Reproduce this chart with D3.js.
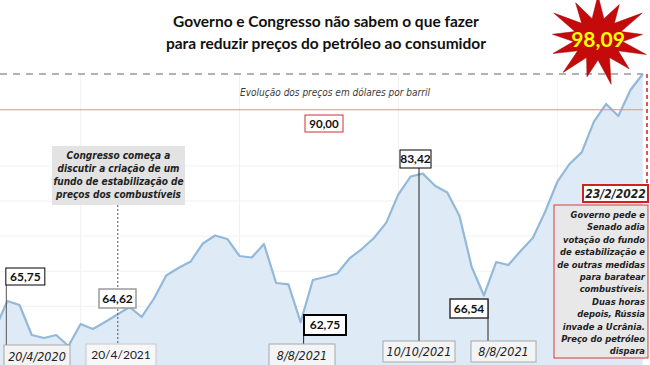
<!DOCTYPE html>
<html><head><meta charset="utf-8">
<script src="https://cdn.jsdelivr.net/npm/d3@7"></script>
<style>
html,body{margin:0;padding:0;background:#fff;}
svg{display:block;font-family:Lato,"Open Sans",sans-serif;}
.it{font-family:"Liberation Sans Narrow","DejaVu Sans Condensed","Liberation Sans",sans-serif;font-style:italic;}
</style></head>
<body>
<script>
// ---- data (weekly index, US$ per barrel) ----
const weekIndex = d3.range(-1, 53);
const prices = [61.77, 65.75, 65.19, 60.91, 60.48, 60.91, 59.34, 62.48, 61.77, 62.76,
  63.83, 64.90, 63.48, 66.11, 69.39, 70.46, 71.38, 73.95, 75.09, 74.59,
  72.17, 71.95, 73.87, 68.32, 68.13, 62.75, 68.75, 69.17, 69.67, 71.81,
  73.16, 74.73, 76.89, 80.95, 83.49, 83.90, 82.18, 81.21, 77.86, 70.60,
  66.54, 71.31, 70.88, 72.88, 74.73, 78.43, 82.71, 85.27, 86.92, 91.31,
  93.82, 92.11, 95.85, 98.09];
const titleLines = ["Governo e Congresso não sabem o que fazer", "para reduzir preços do petróleo ao consumidor"];
const subtitle = "Evolução dos preços em dólares por barril";
const peakLabel = "98,09";
const peakValue = 98.09;
const redLineLevel = 93;
const redLineLabel = "90,00";
const valueLabels = ["65,75", "64,62", "62,75", "83,42", "66,54"];
const valueLabelIdx = [0, 9, 24, 35, 39];
const dateLabels = ["20/4/2020", "20/4/2021", "8/8/2021", "10/10/2021", "8/8/2021"];
const congressText = ["Congresso começa a", "discutir a criação de um", "fundo de estabilização de", "preços dos combustíveis"];
const finalDate = "23/2/2022";
const finalText = ["Governo pede e", "Senado adia", "votação do fundo", "de estabilização e", "de outras medidas", "para baratear", "combustíveis.", "Duas horas", "depois, Rússia", "invade a Ucrânia.", "Preço do petróleo", "dispara"];

const W = 650, H = 365;
const svg = d3.select("body").append("svg").attr("width", W).attr("height", H);

const x = d3.scaleLinear().domain([-1, 52]).range([-4.9, 642.8]);
const y = d3.scaleLinear().domain([55, 100]).range([376.5, 60.6]);

const grid = svg.append("g");
grid.selectAll("line.h").data([60, 65, 70, 75, 80, 85]).join("line")
  .attr("x1", 0).attr("x2", 643).attr("y1", d => y(d)).attr("y2", d => y(d))
  .attr("stroke", "#f1f1f1").attr("stroke-width", 1);
grid.selectAll("line.v").data([6, 19, 32, 45]).join("line")
  .attr("x1", d => x(d)).attr("x2", d => x(d)).attr("y1", 74).attr("y2", H)
  .attr("stroke", "#f1f1f1").attr("stroke-width", 1);

svg.append("clipPath").attr("id", "clip").append("rect").attr("x", 0).attr("y", 0).attr("width", 645).attr("height", H);

const series = weekIndex.map((w, i) => ({w, v: prices[i]}));
const plot = svg.append("g").attr("clip-path", "url(#clip)");
plot.append("path").datum(series)
  .attr("d", d3.area().x(d => x(d.w)).y0(H + 5).y1(d => y(d.v)))
  .attr("fill", "#deeaf6");
plot.append("path").datum(series)
  .attr("d", d3.line().x(d => x(d.w)).y(d => y(d.v)))
  .attr("fill", "none").attr("stroke", "#93b9da").attr("stroke-width", 2.2).attr("stroke-linejoin", "round");

svg.append("line").attr("x1", 0).attr("x2", x(52)).attr("y1", y(peakValue)).attr("y2", y(peakValue))
  .attr("stroke", "#9a9a9a").attr("stroke-width", 1.5).attr("stroke-dasharray", "7,6");
svg.append("line").attr("x1", 0).attr("x2", x(52)).attr("y1", y(redLineLevel)).attr("y2", y(redLineLevel))
  .attr("stroke", "#f08a8a").attr("stroke-width", 1);

svg.append("line").attr("x1", 647).attr("x2", 647).attr("y1", y(peakValue)).attr("y2", 186)
  .attr("stroke", "#d42020").attr("stroke-width", 1.5).attr("stroke-dasharray", "4,3");

svg.append("g").selectAll("text").data(titleLines).join("text")
  .attr("x", 326).attr("y", (d, i) => 27 + i * 22)
  .attr("text-anchor", "middle").attr("font-weight", 700).attr("font-size", 15.5).attr("fill", "#111")
  .text(d => d);

svg.append("text").attr("class", "it").attr("x", 335).attr("y", 96).attr("text-anchor", "middle")
  .attr("font-size", 10).attr("fill", "#3a3a3a").text(subtitle);

(function () {
  const cx = 598, cy = 39, n = 13;
  const outer = [46, 41, 48, 40, 46, 42, 49, 41, 47, 43, 41, 48, 43];
  const pts = [];
  for (let i = 0; i < n * 2; i++) {
    const a = -Math.PI / 2 + i * Math.PI / n;
    const r = i % 2 === 0 ? outer[i / 2] : 22;
    pts.push([cx + r * Math.cos(a) * 1.12, cy + r * Math.sin(a) * 0.95]);
  }
  svg.append("polygon").attr("points", pts.map(p => p.join(",")).join(" "))
    .attr("fill", "#c40a0a").attr("stroke", "#a00000").attr("stroke-width", 0.5);
  svg.append("text").attr("x", cx).attr("y", cy + 8).attr("text-anchor", "middle")
    .attr("font-weight", 700).attr("font-size", 21).attr("fill", "#ffff00").text(peakLabel);
})();

function box(x0, y0, w, h, opts) {
  const g = svg.append("g");
  g.append("rect").attr("x", x0).attr("y", y0).attr("width", w).attr("height", h)
    .attr("fill", opts.fill || "#fff").attr("stroke", opts.stroke || "#000").attr("stroke-width", opts.sw || 1);
  if (opts.text) {
    g.append("text").attr("class", opts.italic ? "it" : null)
      .attr("x", x0 + w / 2).attr("y", y0 + h / 2 + (opts.fs || 12) * 0.36)
      .attr("text-anchor", "middle").attr("font-size", opts.fs || 12)
      .attr("font-weight", opts.fw || 700)
      .attr("fill", opts.color || "#111").text(opts.text);
  }
  return g;
}
function vline(xx, y1, y2, dash, color) {
  svg.append("line").attr("x1", xx).attr("x2", xx).attr("y1", y1).attr("y2", y2)
    .attr("stroke", color || "#222").attr("stroke-width", 1).attr("stroke-dasharray", dash || null);
}

vline(x(valueLabelIdx[0]) - 1, 285, 345, null, "#555");
vline(x(valueLabelIdx[1]) + 0.5, 205, 344, "2,2", "#555");
vline(x(valueLabelIdx[2]) + 3, 318, 344, null, "#222");
vline(419, 168, 341, null, "#222");
vline(488, 300, 341, null, "#222");

box(x(valueLabelIdx[0]) - 1.5, 268, 39, 17, {text: valueLabels[0], sw: 1, fs: 12});
box(99, 289, 37, 19, {text: valueLabels[1], sw: 1.5, stroke: "#9a9a9a", fs: 12});
box(304, 315, 42, 20, {text: valueLabels[2], sw: 2, fs: 12});
box(400, 150, 31, 18, {text: valueLabels[3], sw: 1, fs: 12});
box(450, 299, 38, 19, {text: valueLabels[4], sw: 1.5, stroke: "#333", fs: 12});
box(305, 115, 38, 17, {text: redLineLabel, sw: 1, stroke: "#d03030", fs: 11.5});

box(4, 345, 66, 22, {text: dateLabels[0], fw: 400, italic: true, fs: 12.5, stroke: "#a8a8a8", fill: "#f4f4f4", color: "#222"});
box(86, 344, 70, 22, {text: dateLabels[1], fw: 400, fs: 12, stroke: "#c8c8c8", fill: "#f7f7f7", color: "#222"});
box(269, 344, 66, 22, {text: dateLabels[2], fw: 400, italic: true, fs: 12.5, stroke: "#a8a8a8", fill: "#f2f4f6", color: "#222"});
box(383, 341, 72, 21, {text: dateLabels[3], fw: 400, italic: true, fs: 12.5, stroke: "#a8a8a8", fill: "#f2f4f6", color: "#222"});
box(471, 341, 65, 21, {text: dateLabels[4], fw: 400, italic: true, fs: 12.5, stroke: "#a8a8a8", fill: "#f2f4f6", color: "#222"});

svg.append("rect").attr("x", 52).attr("y", 146).attr("width", 133).attr("height", 59).attr("fill", "#e3e3e3");
svg.append("g").selectAll("text").data(congressText).join("text").attr("class", "it")
  .attr("x", 118.5).attr("y", (d, i) => 159 + i * 13)
  .attr("text-anchor", "middle").attr("font-size", 10).attr("font-weight", 700)
  .attr("fill", "#222").text(d => d);

box(583, 185, 65, 17, {text: finalDate, fw: 700, italic: true, fs: 12, stroke: "#d02020", sw: 2, color: "#222"});
svg.append("rect").attr("x", 554).attr("y", 205).attr("width", 94).attr("height", 153)
  .attr("fill", "#e8e8e8").attr("stroke", "#d83a3a").attr("stroke-width", 1);
svg.append("g").selectAll("text").data(finalText).join("text").attr("class", "it")
  .attr("x", 645).attr("y", (d, i) => 218 + i * 12.4)
  .attr("text-anchor", "end").attr("font-size", 9.3).attr("font-weight", 700)
  .attr("fill", "#222").text(d => d);
</script>
</body></html>
